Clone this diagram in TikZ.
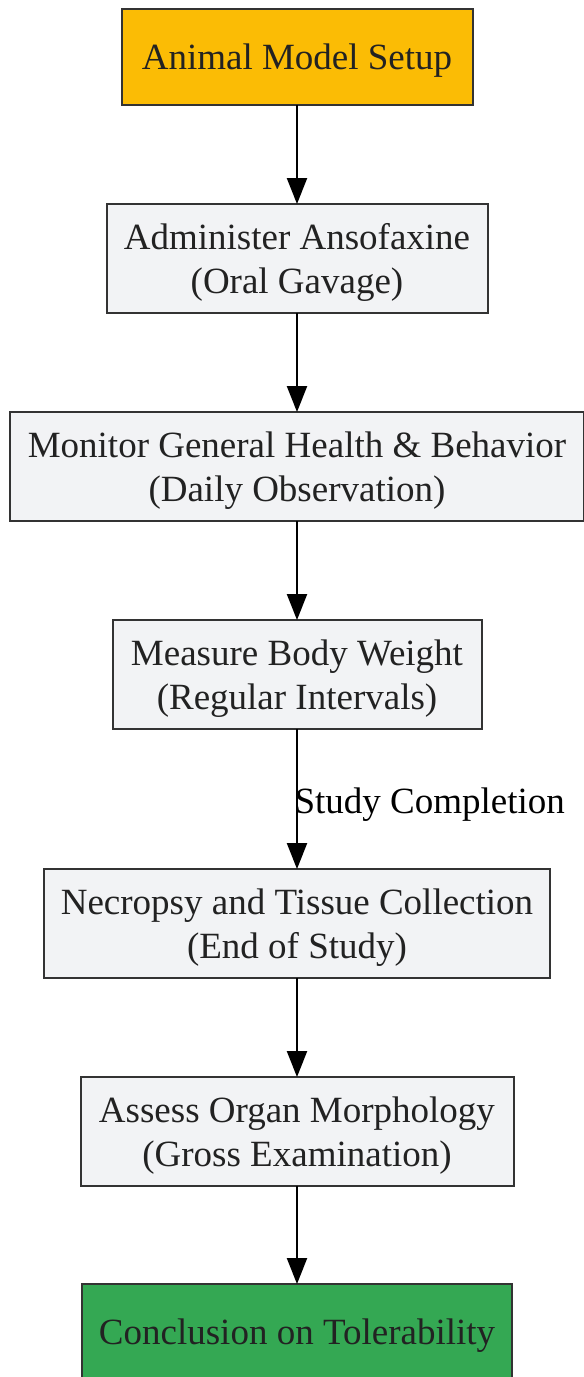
\documentclass[tikz,border=0pt]{standalone}
\usepackage{fontspec}
\setmainfont{Liberation Serif}
\usetikzlibrary{arrows.meta, positioning}

\definecolor{setupfill}{HTML}{FBBC05}
\definecolor{stepfill}{HTML}{F2F3F5}
\definecolor{endfill}{HTML}{34A853}
\definecolor{boxline}{HTML}{333333}
\definecolor{boxtext}{HTML}{222222}

\tikzset{
    stepbox/.style={draw=boxline, line width=2pt, fill=stepfill, text=boxtext,
        align=center, inner xsep=17pt, inner ysep=0pt, minimum height=109pt,
        outer sep=0pt, text depth=-3pt, font=\fontsize{37}{44}\selectfont,
        execute at begin node={\vspace*{6pt}}},
    onebox/.style={stepbox, minimum height=96pt},
    flow/.style={line width=2.4pt, -{Triangle[length=26pt, width=20pt]}}
}

\begin{document}
\begin{tikzpicture}[x=1pt, y=1pt, node distance=99pt]
        % Khung
        \useasboundingbox (0,0) rectangle (584,-1377);

        % Các bước
        \node[onebox, fill=setupfill, minimum width=351pt] (setup) at (297,-57) {Animal Model Setup};
        \node[stepbox, below=of setup, minimum width=381pt] (dose) {Administer Ansofaxine\\(Oral Gavage)};
        \node[stepbox, below=of dose, minimum width=574pt] (health) {Monitor General Health \& Behavior\\(Daily Observation)};
        \node[stepbox, below=of health, minimum width=369pt] (weight) {Measure Body Weight\\(Regular Intervals)};
        \node[stepbox, below=140pt of weight, minimum width=505pt] (necropsy) {Necropsy and Tissue Collection\\(End of Study)};
        \node[stepbox, below=of necropsy, minimum width=433pt] (organ) {Assess Organ Morphology\\(Gross Examination)};
        \node[onebox, fill=endfill, below=98pt of organ, minimum width=429pt] (verdict) {Conclusion on Tolerability};

        % Mũi tên
        \draw[flow] (setup) -- (dose);
        \draw[flow] (dose) -- (health);
        \draw[flow] (health) -- (weight);
        \draw[flow] (weight) -- node[anchor=west, xshift=-7pt, yshift=-6pt, font=\fontsize{37}{44}\selectfont] (donelabel) {Study Completion} (necropsy);
        \draw[flow] (necropsy) -- (organ);
        \draw[flow] (organ) -- (verdict);
    \end{tikzpicture}
\end{document}
